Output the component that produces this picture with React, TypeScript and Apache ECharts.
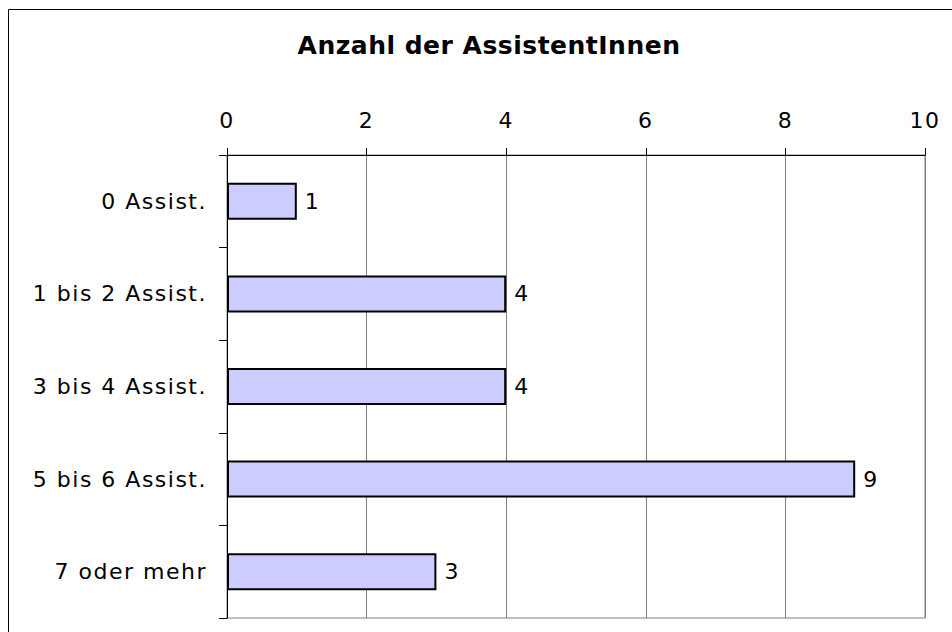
import React, { useEffect, useRef } from "react";
import * as echarts from "echarts";

const categories = ["0 Assist.", "1 bis 2 Assist.", "3 bis 4 Assist.", "5 bis 6 Assist.", "7 oder mehr"];
const counts = [1, 4, 4, 9, 3];
const titleText = "Anzahl der AssistentInnen";

export default function App() {
  const ref = useRef<HTMLDivElement>(null);
  useEffect(() => {
    if (!ref.current) return;
    const chart = echarts.init(ref.current, null, { renderer: "svg" });
    const font = "'DejaVu Sans', Verdana, sans-serif";
    chart.setOption({
      animation: false,
      backgroundColor: "#ffffff",
      textStyle: { fontFamily: font },
      title: {
        text: titleText,
        left: 484,
        textAlign: "center",
        top: 28,
        textStyle: { fontFamily: font, fontSize: 25, fontWeight: "bold", color: "#000" },
      },
      graphic: [
        {
          type: "rect",
          shape: { x: 8.5, y: 9.5, width: 1000, height: 700 },
          style: { fill: "none", stroke: "#000", lineWidth: 1 },
          silent: true,
          z: 0,
        },
      ],
      grid: {
        left: 227,
        right: 27,
        top: 155,
        bottom: 14,
        show: true,
        borderColor: "#808080",
        borderWidth: 1,
        backgroundColor: "transparent",
      },
      xAxis: {
        type: "value",
        position: "top",
        min: 0,
        max: 10,
        interval: 2,
        axisLine: { show: true, lineStyle: { color: "#000", width: 1 } },
        axisTick: { show: true, length: 7, lineStyle: { color: "#000" } },
        axisLabel: { color: "#000", fontSize: 22, margin: 24, fontFamily: font },
        splitLine: { show: true, lineStyle: { color: "#808080", width: 1 } },
      },
      yAxis: {
        type: "category",
        data: categories,
        inverse: true,
        axisLine: { show: true, lineStyle: { color: "#000", width: 1 } },
        axisTick: { show: true, length: 8, lineStyle: { color: "#000" } },
        axisLabel: { color: "#000", fontSize: 22, margin: 20, fontFamily: font },
        splitLine: { show: false },
      },
      series: [
        {
          type: "bar",
          data: counts,
          barWidth: "40%",
          itemStyle: { color: "#CCCCFF", borderColor: "#000", borderWidth: 2 },
          label: {
            show: true,
            position: "right",
            distance: 8,
            color: "#000",
            fontSize: 22,
            fontFamily: font,
          },
        },
      ],
    });
    return () => chart.dispose();
  }, []);
  return (
    <>
      <style>{`.chart-box text { letter-spacing: 1.5px; } .chart-box text[style*="bold"] { letter-spacing: 0.5px; }`}</style>
      <div
        ref={ref}
        className="chart-box"
        style={{ position: "absolute", left: 0, top: 0, width: 952, height: 632 }}
      />
    </>
  );
}
